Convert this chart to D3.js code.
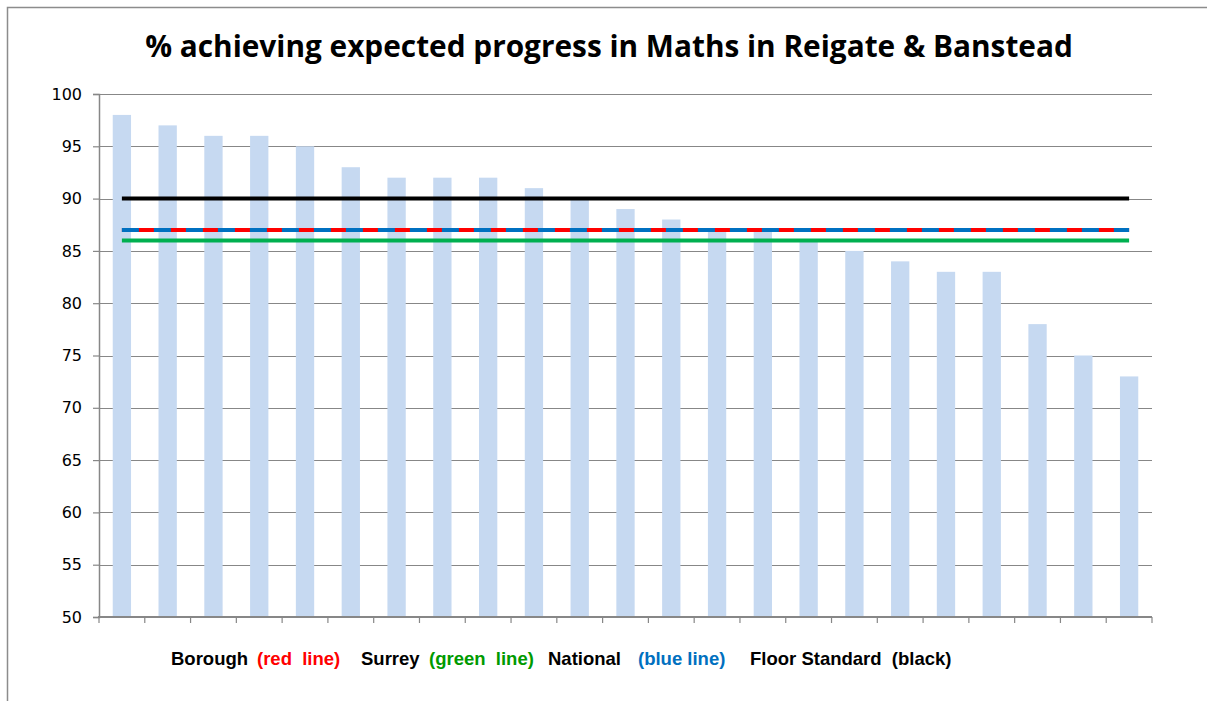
<!DOCTYPE html>
<html>
<head>
<meta charset="utf-8">
<script src="https://cdn.jsdelivr.net/npm/d3@7"></script>
<style>
  body { margin: 0; background: #fff; }
  svg { display: block; }
</style>
</head>
<body>
<div class="wrapper"></div>
<script>
// data
var schools = d3.range(1, 24).map(function(i) { return "School " + i; });
var pctMaths = [98, 97, 96, 96, 95, 93, 92, 92, 92, 91, 90, 89, 88, 87, 87, 86, 85, 84, 83, 83, 78, 75, 73];
var yTicks = [50, 55, 60, 65, 70, 75, 80, 85, 90, 95, 100];

var refLines = [
  {name: "Floor Standard", value: 90, color: "#000000", dash: null},
  {name: "Surrey", value: 86, color: "#00b050", dash: null},
  {name: "Borough", value: 87, color: "#ff0000", dash: null},
  {name: "National", value: 87, color: "#0070c0", dash: "17,15"}
];

var legendParts = [
  {text: "Borough", color: "#000"},
  {text: "(red  line)", color: "#ff0000"},
  {text: "Surrey", color: "#000"},
  {text: "(green  line)", color: "#009a00"},
  {text: "National", color: "#000"},
  {text: "(blue line)", color: "#0070c0"},
  {text: "Floor Standard  (black)", color: "#000"}
];
var legendX = [171, 257, 361, 429, 548, 638, 750];

var W = 1207, H = 701;
var plot = {left: 99, right: 1152, top: 94, bottom: 617};

var svg = d3.select(".wrapper")
  .append("svg")
    .attr("width", W)
    .attr("height", H);

// outer frame (only top and left edges are visible)
svg.append("path")
    .attr("d", "M7.5," + H + "V7.5H" + W)
    .style("fill", "none")
    .style("stroke", "#8c8c8c")
    .style("stroke-width", 1.5);

var x = d3.scaleBand()
    .domain(schools)
    .range([plot.left, plot.right])
    .padding(0);

var y = d3.scaleLinear()
    .domain([50, 100])
    .range([plot.bottom, plot.top]);

var grey = "#878787";

// gridlines
svg.append("g")
  .selectAll("line")
  .data(yTicks.slice(1))
  .enter().append("line")
    .attr("x1", plot.left)
    .attr("x2", plot.right)
    .attr("y1", function(d) { return Math.round(y(d)) + 0.5; })
    .attr("y2", function(d) { return Math.round(y(d)) + 0.5; })
    .style("stroke", grey)
    .style("stroke-width", 1.2);

// bars
var barW = x.bandwidth() * 0.4;
svg.append("g")
  .selectAll("rect")
  .data(pctMaths)
  .enter().append("rect")
    .attr("x", function(d, i) { return x(schools[i]) + (x.bandwidth() - barW) / 2; })
    .attr("y", function(d) { return y(d); })
    .attr("width", barW)
    .attr("height", function(d) { return y(50) - y(d); })
    .attr("fill", "#c6d9f1");

// y axis
var yAxis = svg.append("g")
    .attr("transform", "translate(" + plot.left + ",0)")
    .call(d3.axisLeft(y).tickValues(yTicks).tickSize(6).tickPadding(11));
yAxis.select(".domain").style("stroke", grey).style("stroke-width", 1.5);
yAxis.selectAll(".tick line").style("stroke", grey).style("stroke-width", 1.2);
yAxis.selectAll(".tick text")
    .style("font-family", "'DejaVu Sans', sans-serif")
    .style("font-size", "16px")
    .style("fill", "#000");

// x axis: ticks at category boundaries, no labels
var xAxis = svg.append("g")
    .attr("transform", "translate(0," + plot.bottom + ")");
xAxis.append("line")
    .attr("x1", plot.left - 1)
    .attr("x2", plot.right)
    .style("stroke", grey)
    .style("stroke-width", 2);
xAxis.selectAll(".xt")
  .data(schools.concat(["end"]))
  .enter().append("line")
    .attr("class", "xt")
    .attr("x1", function(d, i) { return i < schools.length ? x(d) : plot.right; })
    .attr("x2", function(d, i) { return i < schools.length ? x(d) : plot.right; })
    .attr("y1", 0)
    .attr("y2", 6)
    .style("stroke", grey)
    .style("stroke-width", 1.2);

// reference lines drawn across category centres
var first = schools[0], last = schools[schools.length - 1];
var line = d3.line()
    .x(function(d) { return x(d.cat) + x.bandwidth() / 2; })
    .y(function(d) { return y(d.v); });

svg.append("g")
  .selectAll("path")
  .data(refLines)
  .enter().append("path")
    .attr("d", function(d) { return line([{cat: first, v: d.value}, {cat: last, v: d.value}]); })
    .style("fill", "none")
    .style("stroke", function(d) { return d.color; })
    .style("stroke-width", 4)
    .style("stroke-dasharray", function(d) { return d.dash; })
    .style("stroke-linecap", "butt");

// title
var title = svg.append("text")
    .attr("x", (145 + 1073) / 2)
    .attr("y", 57)
    .attr("text-anchor", "middle")
    .style("font-family", "'Open Sans', sans-serif")
    .style("font-weight", "bold")
    .style("font-size", "30px")
    .text("% achieving expected progress in Maths in Reigate & Banstead");
var tw = title.node().getComputedTextLength();
title.style("font-size", (30 * 928 / tw) + "px");

// legend text under the axis
svg.append("g")
  .selectAll("text")
  .data(legendParts)
  .enter().append("text")
    .attr("x", function(d, i) { return legendX[i]; })
    .attr("y", 665)
    .attr("xml:space", "preserve")
    .style("font-family", "'Liberation Sans', Arial, sans-serif")
    .style("font-weight", "bold")
    .style("font-size", "18.5px")
    .style("fill", function(d) { return d.color; })
    .text(function(d) { return d.text; });
</script>
</body>
</html>
